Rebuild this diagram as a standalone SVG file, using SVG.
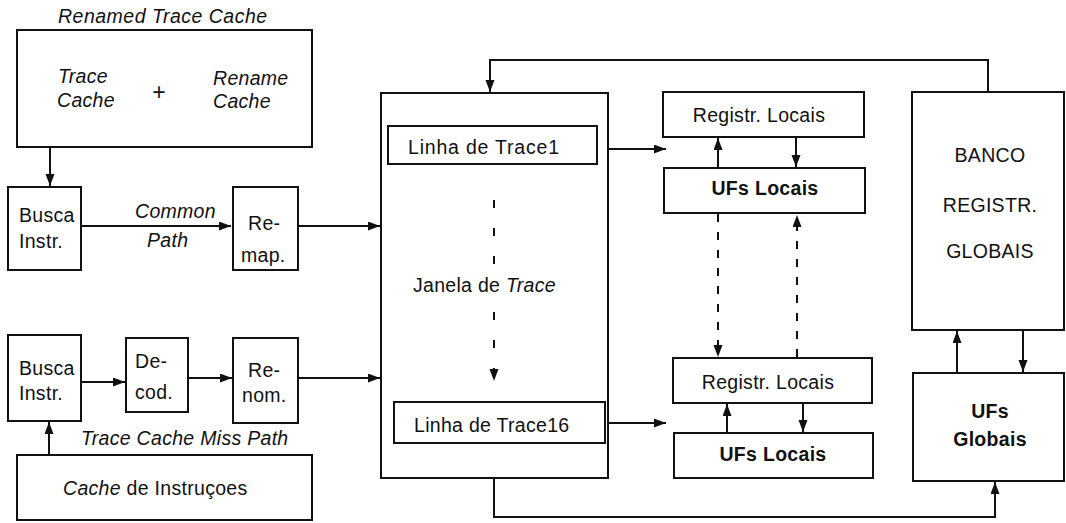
<svg xmlns="http://www.w3.org/2000/svg" width="1066" height="523" viewBox="0 0 1066 523">
<defs>
<style>
.box{fill:#fff;stroke:#111;stroke-width:2}
.t{font-family:"Liberation Sans",Arial,sans-serif;font-size:19.5px;fill:#111;letter-spacing:0.3px}
.i{font-style:italic}
.b{font-weight:bold}
.m{text-anchor:middle}
.c{fill:none;stroke:#111;stroke-width:2}
.d{stroke-dasharray:8 10}
</style>
<marker id="ah" markerUnits="userSpaceOnUse" markerWidth="13" markerHeight="10" refX="12" refY="4.5" orient="auto">
<path d="M0,0 L12,4.5 L0,9 z" fill="#111"/>
</marker>
</defs>
<rect width="1066" height="523" fill="#fff"/>

<g id="connectors">
<path class="c" d="M50,147 V186" marker-end="url(#ah)"/>
<path class="c" d="M81,226 H231" marker-end="url(#ah)"/>
<path class="c" d="M298,226 H380" marker-end="url(#ah)"/>
<path class="c" d="M81,382 H125" marker-end="url(#ah)"/>
<path class="c" d="M188,378 H232" marker-end="url(#ah)"/>
<path class="c" d="M298,378 H380" marker-end="url(#ah)"/>
<path class="c" d="M49,455 V422" marker-end="url(#ah)"/>
<path class="c" d="M597,149 H666" marker-end="url(#ah)"/>
<path class="c" d="M605,423 H666" marker-end="url(#ah)"/>
<path class="c" d="M718,168 V138" marker-end="url(#ah)"/>
<path class="c" d="M796,138 V167" marker-end="url(#ah)"/>
<path class="c d" d="M718,214 V357" marker-end="url(#ah)"/>
<path class="c d" d="M797,357 V215" marker-end="url(#ah)"/>
<path class="c" d="M727,433 V404" marker-end="url(#ah)"/>
<path class="c" d="M803,404 V432" marker-end="url(#ah)"/>
<path class="c" d="M957,373 V331" marker-end="url(#ah)"/>
<path class="c" d="M1023,331 V372" marker-end="url(#ah)"/>
<path class="c" d="M988,92 V60 H490 V92" marker-end="url(#ah)"/>
<path class="c" d="M494,478 V517 H995 V482" marker-end="url(#ah)"/>
</g>

<g id="renamed-trace-cache">
<text class="t i" x="58" y="23" style="letter-spacing:0.5px">Renamed Trace Cache</text>
<rect class="box" x="17" y="30" width="295" height="117"/>
<text class="t i" x="58" y="83">Trace</text>
<text class="t i" x="57" y="107">Cache</text>
<text class="t" x="159" y="100" style="font-size:23px" text-anchor="middle">+</text>
<text class="t i" x="213" y="85">Rename</text>
<text class="t i" x="213" y="108">Cache</text>
</g>

<g id="busca1">
<rect class="box" x="8" y="187" width="73" height="83"/>
<text class="t" x="19" y="222">Busca</text>
<text class="t" x="19" y="248">Instr.</text>
</g>

<g id="common-path">
<text class="t i" x="135" y="218">Common</text>
<text class="t i" x="147" y="247">Path</text>
</g>

<g id="remap">
<rect class="box" x="233" y="187" width="65" height="83"/>
<text class="t" x="248" y="230">Re-</text>
<text class="t" x="241" y="262">map.</text>
</g>

<g id="busca2">
<rect class="box" x="8" y="335" width="73" height="86"/>
<text class="t" x="19" y="375">Busca</text>
<text class="t" x="19" y="400">Instr.</text>
</g>

<g id="decod">
<rect class="box" x="126" y="338" width="62" height="74"/>
<text class="t" x="135" y="368">De-</text>
<text class="t" x="135" y="399">cod.</text>
</g>

<g id="renom">
<rect class="box" x="233" y="338" width="65" height="85"/>
<text class="t" x="248" y="377">Re-</text>
<text class="t" x="242" y="402">nom.</text>
</g>

<g id="miss-path">
<text class="t i" x="81" y="445">Trace Cache Miss Path</text>
</g>

<g id="cache-instr">
<rect class="box" x="17" y="455" width="295" height="65"/>
<text class="t" x="63" y="495"><tspan class="i">Cache</tspan> de Instruçoes</text>
</g>

<g id="janela">
<rect class="box" x="381" y="93" width="227" height="385"/>
<path class="c" d="M494,200 V381" style="stroke-dasharray:8 20" marker-end="url(#ah)"/>
<rect x="420" y="272" width="150" height="26" fill="#fff"/>
<text class="t" x="413" y="292">Janela de <tspan class="i">Trace</tspan></text>
</g>

<g id="linha1">
<rect class="box" x="388" y="126" width="209" height="38"/>
<text class="t" x="408" y="154" style="letter-spacing:0.8px">Linha de Trace1</text>
</g>

<g id="linha16">
<rect class="box" x="394" y="402" width="211" height="41"/>
<text class="t" x="414" y="432">Linha de Trace16</text>
</g>

<g id="registr1">
<rect class="box" x="663" y="92" width="201" height="45"/>
<text class="t m" x="759" y="122">Registr. Locais</text>
</g>

<g id="ufs1">
<rect class="box" x="664" y="168" width="201" height="45"/>
<text class="t b m" x="765" y="195">UFs Locais</text>
</g>

<g id="registr2">
<rect class="box" x="673" y="358" width="199" height="45"/>
<text class="t m" x="768" y="389">Registr. Locais</text>
</g>

<g id="ufs2">
<rect class="box" x="674" y="433" width="199" height="45"/>
<text class="t b m" x="773" y="461">UFs Locais</text>
</g>

<g id="banco">
<rect class="box" x="912" y="92" width="152" height="238"/>
<text class="t m" x="990" y="162">BANCO</text>
<text class="t m" x="990" y="212">REGISTR.</text>
<text class="t m" x="990" y="258">GLOBAIS</text>
</g>

<g id="ufs-globais">
<rect class="box" x="913" y="373" width="151" height="108"/>
<text class="t b m" x="990" y="418">UFs</text>
<text class="t b m" x="990" y="446">Globais</text>
</g>
</svg>
